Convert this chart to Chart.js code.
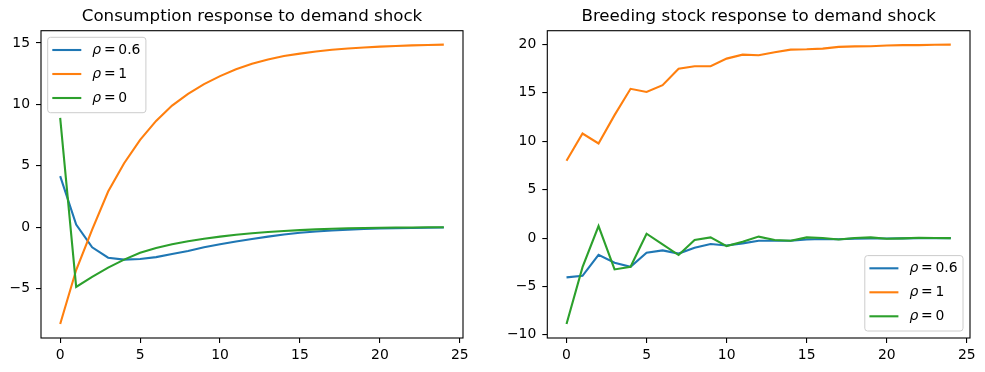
<!DOCTYPE html>
<html>
<head>
<meta charset="utf-8">
<title>Demand shock responses</title>
<script src="https://cdn.jsdelivr.net/npm/chart.js@4.4.1/dist/chart.umd.min.js"></script>
<style>
    body { margin: 0; background: #fff; }
    .panel { position: absolute; top: 0; height: 372px; }
    #leftPanel { left: 0; width: 490px; }
    #rightPanel { left: 490px; width: 495px; }
</style>
</head>
<body>
<div class="panel" id="leftPanel"><canvas id="consumptionChart"></canvas></div>
<div class="panel" id="rightPanel"><canvas id="breedingChart"></canvas></div>
<script>
// Periods after the shock
const periods = [0, 1, 2, 3, 4, 5, 6, 7, 8, 9, 10, 11, 12, 13, 14, 15, 16, 17, 18, 19, 20, 21, 22, 23, 24];

// Series labels (rho values)
const rhoLabels = ['0.6', '1', '0'];

// Consumption response
const consumptionRho06 = [4.15, 0.2, -1.65, -2.5, -2.65, -2.6, -2.45, -2.2, -1.95, -1.65, -1.4, -1.17, -0.97, -0.78, -0.6, -0.46, -0.36, -0.28, -0.21, -0.16, -0.12, -0.09, -0.07, -0.05, -0.04];
const consumptionRho1 = [-7.9, -3.5, -0.2, 2.9, 5.2, 7.1, 8.65, 9.9, 10.85, 11.65, 12.3, 12.85, 13.3, 13.65, 13.93, 14.13, 14.3, 14.45, 14.55, 14.63, 14.7, 14.75, 14.8, 14.83, 14.86];
const consumptionRho0 = [8.9, -4.88, -4.05, -3.3, -2.65, -2.1, -1.7, -1.4, -1.15, -0.95, -0.78, -0.63, -0.5, -0.4, -0.32, -0.25, -0.19, -0.14, -0.1, -0.07, -0.05, -0.04, -0.03, -0.02, -0.01];

// Breeding stock response
const breedingRho06 = [-4.06, -3.9, -1.73, -2.55, -2.96, -1.51, -1.27, -1.6, -1.0, -0.62, -0.76, -0.55, -0.28, -0.27, -0.27, -0.15, -0.1, -0.12, -0.06, -0.04, -0.05, -0.03, -0.02, -0.01, -0.01];
const breedingRho1 = [7.98, 10.8, 9.77, 12.7, 15.42, 15.1, 15.8, 17.5, 17.75, 17.75, 18.54, 18.95, 18.88, 19.2, 19.47, 19.5, 19.57, 19.75, 19.8, 19.82, 19.9, 19.93, 19.93, 19.97, 19.98];
const breedingRho0 = [-8.88, -3.0, 1.24, -3.24, -2.96, 0.45, -0.65, -1.75, -0.2, 0.07, -0.83, -0.38, 0.15, -0.2, -0.28, 0.07, 0.0, -0.14, 0.0, 0.07, -0.07, -0.03, 0.03, 0.0, 0.0];

// Tick labels
const periodTicks = [0, 5, 10, 15, 20, 25];
const consumptionTicks = [-5, 0, 5, 10, 15];
const breedingTicks = [-10, -5, 0, 5, 10, 15, 20];

const seriesColors = ['#1f77b4', '#ff7f0e', '#2ca02c'];
const FONT = 'DejaVu Sans';

// matplotlib style minus sign
function formatTick(v) {
    return v < 0 ? '\u2212' + Math.abs(v) : String(v);
}

// Axis limits with 5% margin like matplotlib
function paddedRange(arrays) {
    const all = [].concat(...arrays);
    const lo = Math.min(...all);
    const hi = Math.max(...all);
    const pad = (hi - lo) * 0.05;
    return { min: lo - pad, max: hi + pad };
}

// Full box around the plot area
const framePlugin = {
    id: 'frame',
    afterDatasetsDraw(chart) {
        const a = chart.chartArea;
        const ctx = chart.ctx;
        ctx.save();
        ctx.strokeStyle = '#000';
        ctx.lineWidth = 1.1;
        ctx.strokeRect(a.left, a.top, a.right - a.left, a.bottom - a.top);
        ctx.restore();
    }
};

// Legend drawn inside the plot area
const insetLegendPlugin = {
    id: 'insetLegend',
    afterDraw(chart, args, opts) {
        const ctx = chart.ctx;
        const a = chart.chartArea;
        const size = 13.9;
        const rowGap = 24;
        const handleLen = 29;
        ctx.save();
        ctx.textBaseline = 'middle';

        const items = chart.data.datasets.map(ds => {
            ctx.font = 'italic ' + size + 'px "' + FONT + '"';
            const w1 = ctx.measureText('\u03c1').width;
            ctx.font = size + 'px "' + FONT + '"';
            const rest = '\u2009=\u2009' + ds.rhoText;
            const w2 = ctx.measureText(rest).width;
            return { color: ds.borderColor, rest: rest, w1: w1, w: w1 + w2 };
        });
        const textW = Math.max(...items.map(i => i.w));
        const boxW = 4.6 + handleLen + 11 + textW + 5.5;
        const boxH = 12.7 * 2 + rowGap * (items.length - 1) + 2;

        let x0, y0;
        if (opts.corner === 'lower right') {
            x0 = a.right - 7 - boxW;
            y0 = a.bottom - 7 - boxH;
        } else {
            x0 = a.left + 6.7;
            y0 = a.top + 6.6;
        }

        ctx.beginPath();
        ctx.roundRect(x0, y0, boxW, boxH, 2.8);
        ctx.fillStyle = 'rgba(255,255,255,0.8)';
        ctx.fill();
        ctx.strokeStyle = '#cccccc';
        ctx.lineWidth = 1;
        ctx.stroke();

        items.forEach((item, i) => {
            const y = y0 + 12.7 + i * rowGap;
            ctx.beginPath();
            ctx.moveTo(x0 + 4.6, y);
            ctx.lineTo(x0 + 4.6 + handleLen, y);
            ctx.strokeStyle = item.color;
            ctx.lineWidth = 2.1;
            ctx.stroke();

            const tx = x0 + 4.6 + handleLen + 11;
            ctx.fillStyle = '#000';
            ctx.font = 'italic ' + size + 'px "' + FONT + '"';
            ctx.fillText('\u03c1', tx, y);
            ctx.font = size + 'px "' + FONT + '"';
            ctx.fillText(item.rest, tx + item.w1, y);
        });
        ctx.restore();
    }
};

function buildChart(canvasId, cfg) {
    const yRange = paddedRange(cfg.series);
    const xRange = paddedRange([periods]);
    const tickFont = { family: FONT, size: 13.9 };

    const datasets = cfg.series.map((values, i) => ({
        label: 'rho = ' + rhoLabels[i],
        rhoText: rhoLabels[i],
        data: periods.map((p, k) => ({ x: p, y: values[k] })),
        borderColor: seriesColors[i],
        borderWidth: 2.1,
        pointRadius: 0,
        tension: 0,
        fill: false,
        order: cfg.series.length - i
    }));

    return new Chart(document.getElementById(canvasId), {
        type: 'line',
        data: { datasets: datasets },
        options: {
            responsive: true,
            maintainAspectRatio: false,
            animation: false,
            layout: { padding: { left: 0, right: cfg.rightPad, top: 0, bottom: 0 } },
            plugins: {
                legend: { display: false },
                tooltip: { enabled: false },
                title: {
                    display: true,
                    text: cfg.title,
                    fullSize: false,
                    color: '#000',
                    font: { family: FONT, size: 16.67, weight: 'normal', lineHeight: 1.2 },
                    padding: { top: 6.7, bottom: 4 }
                },
                insetLegend: { corner: cfg.legendCorner }
            },
            scales: {
                x: {
                    type: 'linear',
                    min: xRange.min,
                    max: xRange.max,
                    afterFit: s => { s.height = 34; },
                    afterBuildTicks: s => { s.ticks = periodTicks.map(v => ({ value: v })); },
                    ticks: { color: '#000', font: tickFont, padding: 4, maxRotation: 0, callback: v => formatTick(v) },
                    grid: { drawOnChartArea: false, color: '#000', tickLength: 5, lineWidth: 1.1 },
                    border: { display: false }
                },
                y: {
                    type: 'linear',
                    min: yRange.min,
                    max: yRange.max,
                    afterFit: s => { s.width = cfg.yAxisWidth; },
                    afterBuildTicks: s => { s.ticks = cfg.yTicks.map(v => ({ value: v })); },
                    ticks: { color: '#000', font: tickFont, padding: 6, callback: v => formatTick(v) },
                    grid: { drawOnChartArea: false, color: '#000', tickLength: 5, lineWidth: 1.1 },
                    border: { display: false }
                }
            }
        },
        plugins: [framePlugin, insetLegendPlugin]
    });
}

document.addEventListener('DOMContentLoaded', function() {
    buildChart('consumptionChart', {
        title: 'Consumption response to demand shock',
        series: [consumptionRho06, consumptionRho1, consumptionRho0],
        yTicks: consumptionTicks,
        yAxisWidth: 41,
        rightPad: 27,
        legendCorner: 'upper left'
    });
    buildChart('breedingChart', {
        title: 'Breeding stock response to demand shock',
        series: [breedingRho06, breedingRho1, breedingRho0],
        yTicks: breedingTicks,
        yAxisWidth: 57.3,
        rightPad: 15,
        legendCorner: 'lower right'
    });
});
</script>
</body>
</html>
